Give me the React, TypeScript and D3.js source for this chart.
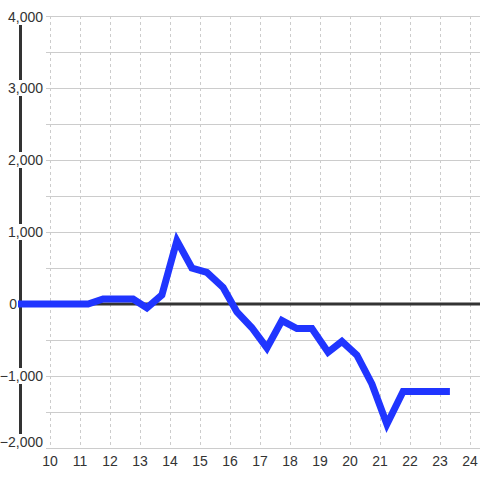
import React from "react";
import * as d3 from "d3";

const xValues = [8.9, 11.27, 11.77, 12.77, 13.23, 13.73, 14.23, 14.73, 15.23, 15.77, 16.23, 16.73, 17.23, 17.73, 18.23, 18.73, 19.27, 19.73, 20.23, 20.73, 21.23, 21.77, 23.33];
const yValues = [0, 0, 70, 70, -55, 125, 880, 500, 440, 230, -110, -330, -610, -230, -340, -340, -670, -520, -710, -1110, -1670, -1215, -1215];
const xTicks = [10, 11, 12, 13, 14, 15, 16, 17, 18, 19, 20, 21, 22, 23, 24];
const yLabelTicks = [-2000, -1000, 0, 1000, 2000, 3000, 4000];
const yGridTicks = [-2000, -1500, -1000, -500, 0, 500, 1000, 1500, 2000, 2500, 3000, 3500, 4000];

export default function App() {
  const W = 480, H = 480;
  const x = d3.scaleLinear().domain([10, 24]).range([50, 470]);
  const y = d3.scaleLinear().domain([-2000, 4000]).range([448, 16]);
  const data = xValues.map((v, i) => [v, yValues[i]] as [number, number]);
  const line = d3.line<[number, number]>().x(d => x(d[0])).y(d => y(d[1]));
  const fmt = d3.format(",");
  const font = "'Liberation Sans', Arial, sans-serif";

  return (
    <svg width={W} height={H} style={{ position: "absolute", left: 0, top: 0, background: "#fff" }}>
      {yGridTicks.map(t => (
        <line key={"hg" + t} x1={46} x2={480} y1={y(t)} y2={y(t)} stroke="#cccccc" strokeWidth={1} shapeRendering="crispEdges" />
      ))}
      {xTicks.map(t => (
        <line key={"vg" + t} x1={x(t)} x2={x(t)} y1={16} y2={447} stroke="#cccccc" strokeWidth={1} strokeDasharray="3,3" shapeRendering="crispEdges" />
      ))}
      <line x1={20} x2={480} y1={y(0)} y2={y(0)} stroke="#333" strokeWidth={3} />
      <line x1={20.5} x2={20.5} y1={16} y2={436} stroke="#333" strokeWidth={3} />
      <path d={line(data) || ""} fill="none" stroke="#2035ff" strokeWidth={7} strokeLinejoin="miter" strokeLinecap="butt" />
      {yLabelTicks.map(t => {
        const s = fmt(t);
        const w = s.length * 7.8 + 2;
        const right = t === 0 ? 17 : 43;
        const cy = t === -2000 ? y(t) - 6 : t === 4000 ? y(t) + 1 : y(t);
        return (
          <g key={"yl" + t}>
            <rect x={right + 1 - w} y={cy - 8} width={w} height={16} fill="#fff" />
            <text x={right} y={cy} dy="0.35em" textAnchor="end" fontFamily={font} fontSize={14} fill="#333">{s}</text>
          </g>
        );
      })}
      {xTicks.map(t => (
        <text key={"xl" + t} x={x(t)} y={466} textAnchor="middle" fontFamily={font} fontSize={14} fill="#333">{t}</text>
      ))}
    </svg>
  );
}
